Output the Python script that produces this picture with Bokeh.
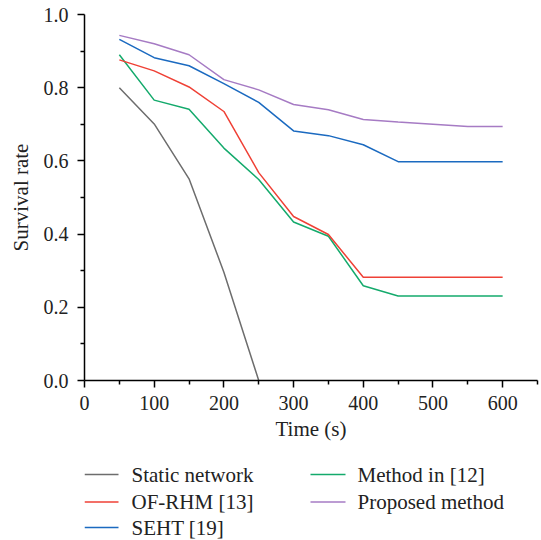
from bokeh.plotting import figure
from bokeh.layouts import column
from bokeh.models import Range1d, FixedTicker, NumeralTickFormatter, ColumnDataSource
from bokeh.core.properties import value
from bokeh.embed import file_html
from bokeh.resources import INLINE

time_s = [50, 100, 150, 200, 250, 300, 350, 400, 450, 500, 550, 600]
static_t = [50, 100, 150, 200, 250]
static_network = [0.800, 0.701, 0.551, 0.296, 0.0]
of_rhm = [0.876, 0.846, 0.802, 0.735, 0.568, 0.448, 0.399, 0.282, 0.282, 0.282, 0.282, 0.282]
seht = [0.932, 0.882, 0.860, 0.811, 0.760, 0.682, 0.669, 0.644, 0.598, 0.598, 0.598, 0.598]
method12 = [0.890, 0.766, 0.741, 0.635, 0.549, 0.433, 0.394, 0.259, 0.231, 0.231, 0.231, 0.231]
proposed = [0.943, 0.920, 0.890, 0.822, 0.794, 0.754, 0.740, 0.713, 0.706, 0.700, 0.694, 0.694]

x_ticks = [0, 100, 200, 300, 400, 500, 600]
x_minor = [50, 150, 250, 350, 450, 550, 650]
y_ticks = [0.0, 0.2, 0.4, 0.6, 0.8, 1.0]
y_minor = [0.1, 0.3, 0.5, 0.7, 0.9]

legend_labels = ["Static network", "OF-RHM [13]", "SEHT [19]", "Method in [12]", "Proposed method"]
legend_colors = ["#6d6d6d", "#ef4136", "#1b6ac0", "#14aa6c", "#a67bc4"]
legend_col = [0, 0, 0, 1, 1]
legend_row = [0, 1, 2, 0, 1]

FONT = "Liberation Serif"

p = figure(width=541, height=450, output_backend="svg", toolbar_location=None,
           x_range=Range1d(0, 650), y_range=Range1d(0, 1.0),
           min_border_left=84, min_border_right=4, min_border_top=14,
           min_border_bottom=70)
p.outline_line_color = None
p.xgrid.visible = False
p.ygrid.visible = False

for ax in (p.xaxis[0], p.yaxis[0]):
    ax.axis_line_color = "black"
    ax.axis_line_width = 1.5
    ax.major_tick_line_width = 1.5
    ax.minor_tick_line_width = 1.5
    ax.major_tick_out = 7
    ax.major_tick_in = 0
    ax.minor_tick_out = 4
    ax.minor_tick_in = 0
    ax.major_label_text_font = FONT
    ax.major_label_text_font_size = "20px"
    ax.major_label_text_color = "#222222"
    ax.axis_label_text_font = FONT
    ax.axis_label_text_font_size = "21px"
    ax.axis_label_text_font_style = "normal"
    ax.axis_label_text_color = "#222222"

p.xaxis.major_label_standoff = 8
p.yaxis.major_label_standoff = 9
p.xaxis.ticker = FixedTicker(ticks=x_ticks, minor_ticks=x_minor)
p.yaxis.ticker = FixedTicker(ticks=y_ticks, minor_ticks=y_minor)
p.yaxis.formatter = NumeralTickFormatter(format="0.0")
p.xaxis.axis_label = "Time (s)"
p.yaxis.axis_label = "Survival rate"
p.xaxis.axis_label_standoff = 4
p.yaxis.axis_label_standoff = 8

p.line(static_t, static_network, line_color=legend_colors[0], line_width=1.5)
p.line(time_s, method12, line_color=legend_colors[3], line_width=1.5)
p.line(time_s, of_rhm, line_color=legend_colors[1], line_width=1.5)
p.line(time_s, seht, line_color=legend_colors[2], line_width=1.5)
p.line(time_s, proposed, line_color=legend_colors[4], line_width=1.5)

# legend panel (its frame is aligned with the main plot's frame: x = page px)
col_x0 = [84, 310]
row_y = [24, 51.5, 77]
glyph_w = 35
standoff = 12
src = ColumnDataSource(dict(
    x0=[col_x0[c] for c in legend_col],
    x1=[col_x0[c] + glyph_w - (1 if c == 0 else 0) for c in legend_col],
    xt=[col_x0[c] + glyph_w + standoff for c in legend_col],
    y=[row_y[r] for r in legend_row],
    label=legend_labels,
    color=legend_colors,
))

q = figure(width=541, height=90, output_backend="svg", toolbar_location=None,
           x_range=Range1d(84, 537), y_range=Range1d(90, 0),
           x_axis_type=None, y_axis_type=None,
           min_border_left=84, min_border_right=4, min_border_top=0, min_border_bottom=0)
q.outline_line_color = None
q.xgrid.visible = False
q.ygrid.visible = False
q.segment(x0="x0", y0="y", x1="x1", y1="y", line_color="color", line_width=1.5, source=src)
q.text(x="xt", y="y", text="label", text_font=value(FONT), text_font_size="21px",
       text_color="#222222", text_baseline="middle", text_align="left", source=src)

layout = column(p, q, spacing=0)
open("out.html", "w").write(file_html(layout, INLINE))
